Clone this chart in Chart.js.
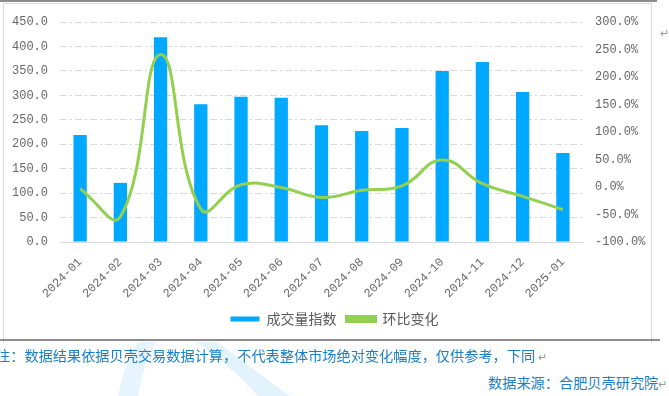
<!DOCTYPE html>
<html><head><meta charset="utf-8">
<script src="https://cdn.jsdelivr.net/npm/chart.js@4/dist/chart.umd.min.js"></script>
<style>
html,body{margin:0;padding:0;background:#fff;width:669px;height:396px;overflow:hidden;position:relative;font-family:"Noto Sans CJK SC",sans-serif;}
#wrap{position:absolute;left:0;top:0;width:669px;height:340px;}
#topline{position:absolute;left:0;top:0;width:657px;height:2px;background:#8c8c8c;}
#frame{position:absolute;left:3px;top:3px;width:649px;height:340px;border-left:1px solid #d9d9d9;border-right:1px solid #d9d9d9;border-top:1px solid #d9d9d9;box-sizing:border-box;pointer-events:none;}
#sep{position:absolute;left:0;top:339px;width:660px;height:2px;background:#8c8c8c;}
.txt{position:absolute;color:#1a7fc4;font-size:14.2px;white-space:nowrap;line-height:1;}
.mark{color:#9a9a9a;font-size:11px;}
#wm{position:absolute;left:0;top:340px;}
</style></head>
<body>
<svg id="wm" width="669" height="56">
<path d="M118 56 L138 56 C142 35 147 18 156 2 L138 2 C128 18 122 35 118 56 Z" fill="#e6f5fd"/>
<path d="M196 2 L216 2 C240 18 262 36 290 56 L258 56 C240 36 220 18 196 2 Z" fill="#e2f3fc"/>
</svg>
<div id="topline"></div>
<div id="wrap"><canvas id="c" width="669" height="340"></canvas></div>
<div id="frame"></div>
<div id="sep"></div>
<div class="txt" style="left:-4px;top:348px;">注：数据结果依据贝壳交易数据计算，不代表整体市场绝对变化幅度，仅供参考，下同 <span class="mark">↵</span></div>
<div class="txt" style="left:488px;top:375px;">数据来源：合肥贝壳研究院<span class="mark">↵</span></div>
<div class="txt mark" style="left:660px;top:27px;">↵</div>
<script>
const categories = ["2024-01","2024-02","2024-03","2024-04","2024-05","2024-06","2024-07","2024-08","2024-09","2024-10","2024-11","2024-12","2025-01"];
const volumeIndex = [219, 121, 419, 282, 297, 295, 239, 227, 233, 350, 368, 307, 182];
const momChange = [-3, -54, 241, -40, 4, -1, -19, -6, 2, 49, 6, -17, -41];
const seriesNames = ["成交量指数", "环比变化"];
const leftTicks = {min: 0, max: 450, step: 50};
const rightTicks = {min: -100, max: 300, step: 50};

const tickFont = {family: "'Liberation Mono', monospace", size: 12};
const tickColor = '#666666';
new Chart(document.getElementById('c'), {
  data: {
    labels: categories,
    datasets: [
      {type: 'bar', label: seriesNames[0], data: volumeIndex, backgroundColor: '#00a9ff', borderWidth: 0,
       barPercentage: 0.33, categoryPercentage: 1, yAxisID: 'y', order: 2},
      {type: 'line', label: seriesNames[1], data: momChange, borderColor: '#92d050', backgroundColor: '#92d050',
       borderWidth: 3, pointRadius: 0, tension: 0.45, yAxisID: 'y1', order: 1}
    ]
  },
  options: {
    responsive: false, animation: false,
    layout: {padding: {top: 22, left: 0, right: 0, bottom: 4}},
    plugins: {
      tooltip: {enabled: false},
      legend: {position: 'bottom',
        labels: {boxWidth: 29, boxHeight: 5, padding: 10, color: '#595959',
          sort: (a, b) => a.datasetIndex - b.datasetIndex,
          font: {family: "'Noto Sans CJK SC', sans-serif", size: 14}}}
    },
    scales: {
      x: {
        grid: {display: false},
        border: {display: true, color: '#d9d9d9', width: 1},
        ticks: {autoSkip: false, maxRotation: 45, minRotation: 45, padding: 5, color: tickColor, font: tickFont},
        afterFit: s => { s.height = 60; }
      },
      y: {
        position: 'left', min: leftTicks.min, max: leftTicks.max,
        grid: {color: '#d9d9d9', drawTicks: false},
        border: {display: false, dash: [7, 3, 2, 3]},
        ticks: {stepSize: leftTicks.step, padding: 12, color: tickColor, font: tickFont,
          callback: v => Number(v).toFixed(1)},
        afterFit: s => { s.width = 60; }
      },
      y1: {
        position: 'right', min: rightTicks.min, max: rightTicks.max,
        grid: {display: false, drawTicks: false},
        border: {display: false},
        ticks: {stepSize: rightTicks.step, padding: 12, color: tickColor, font: tickFont,
          callback: v => Number(v).toFixed(1) + '%'},
        afterFit: s => { s.width = 86; }
      }
    }
  }
});
</script>
</body></html>
